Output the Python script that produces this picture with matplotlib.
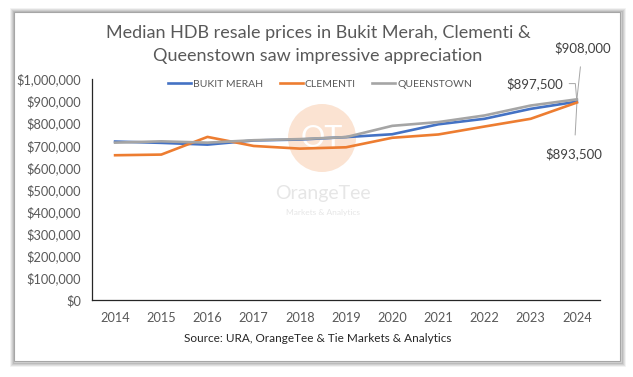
import matplotlib.pyplot as plt
import matplotlib.patches as patches

plt.rcParams['font.family'] = ['Lato', 'DejaVu Sans']

years = ['2014', '2015', '2016', '2017', '2018', '2019', '2020', '2021', '2022', '2023', '2024']
bukit_merah = [717000, 711000, 703000, 722000, 726000, 737000, 750000, 795000, 820000, 865000, 897500]
clementi = [655000, 658000, 738000, 697000, 685000, 691000, 734000, 749000, 785000, 820000, 893500]
queenstown = [712000, 718000, 712000, 723000, 728000, 737000, 788000, 805000, 835000, 880000, 908000]
y_ticks = [0, 100000, 200000, 300000, 400000, 500000, 600000, 700000, 800000, 900000, 1000000]

W, H = 633, 377
fig = plt.figure(figsize=(6.33, 3.77), dpi=100)

# frame with soft shadow
def px(x, y):
    return x / W, 1 - y / H

for i, a in enumerate([0.10, 0.18, 0.28, 0.40]):
    off = 4 - i
    x0, y1 = px(14 - off + 1, 361 + off + 1)
    x1, y0 = px(620 + off + 1, 12 - off + 1)
    fig.patches.append(patches.Rectangle((x0, y1), x1 - x0, y0 - y1, transform=fig.transFigure,
                                         facecolor='none', edgecolor='#7f7f7f', alpha=a, lw=1.3,
                                         zorder=-3))
x0, y1 = px(14, 361)
x1, y0 = px(620, 12)
fig.patches.append(patches.Rectangle((x0, y1), x1 - x0, y0 - y1, transform=fig.transFigure,
                                     facecolor='white', edgecolor='#a6a6a6', lw=0.8, zorder=-2))

ax = fig.add_axes([92 / W, 1 - 300 / H, (600 - 92) / W, (300 - 79) / H])
ax.set_facecolor('none')

# watermark
cx, cy = px(322, 138)
fig.patches.append(patches.Ellipse((cx, cy), 68 / W, 68 / H, transform=fig.transFigure,
                                   facecolor='#fbe3d2', edgecolor='none', zorder=-1))
fig.text(cx, cy, 'OT', ha='center', va='center', fontsize=22, color='white', zorder=-1)
fig.text(*px(323, 194), 'OrangeTee', ha='center', va='center', fontsize=14, color='#e6e6e6', zorder=-1)
fig.text(*px(323, 212), 'Markets & Analytics', ha='center', va='center', fontsize=6, color='#e6e6e6', zorder=-1)

x = list(range(len(years)))
ax.plot(x, bukit_merah, color='#4472c4', lw=1.9, label='BUKIT MERAH', zorder=4)
ax.plot(x, clementi, color='#ed7d31', lw=1.9, label='CLEMENTI', zorder=4)
ax.plot(x, queenstown, color='#a5a5a5', lw=1.9, label='QUEENSTOWN', zorder=4)

ax.set_xlim(-0.5, len(years) - 0.5)
ax.set_ylim(0, 1000000)
ax.set_xticks(x)
ax.set_xticklabels(years)
ax.set_yticks(y_ticks)
ax.set_yticklabels(['${:,.0f}'.format(v) for v in y_ticks])
ax.tick_params(axis='both', length=0, labelsize=9.2, colors='#595959')
ax.tick_params(axis='x', pad=9)
ax.tick_params(axis='y', pad=8)
for s in ['top', 'right']:
    ax.spines[s].set_visible(False)
ax.spines['left'].set_color('#262626')
ax.spines['bottom'].set_color('#262626')
ax.spines['left'].set_linewidth(0.9)
ax.spines['bottom'].set_linewidth(0.9)

# end labels with leader lines
last = len(years) - 1
lc = '#a6a6a6'
ax.annotate('${:,.0f}'.format(queenstown[-1]), xy=(last, queenstown[-1]), xytext=(4, 37),
            textcoords='offset points', ha='center', va='center', fontsize=9.5, color='#404040',
            arrowprops=dict(arrowstyle='-', color=lc, lw=0.7, shrinkA=7, shrinkB=0))
ax.annotate('${:,.0f}'.format(bukit_merah[-1]), xy=(last, bukit_merah[-1]), xytext=(-30, 13),
            textcoords='offset points', ha='center', va='center', fontsize=9.5, color='#404040',
            arrowprops=dict(arrowstyle='-', color=lc, lw=0.7, shrinkA=2, shrinkB=0,
                            connectionstyle='angle,angleA=0,angleB=95,rad=0', relpos=(1.0, 0.5)))
ax.annotate('${:,.0f}'.format(clementi[-1]), xy=(last, clementi[-1]), xytext=(-2, -37),
            textcoords='offset points', ha='center', va='center', fontsize=9.5, color='#404040',
            arrowprops=dict(arrowstyle='-', color=lc, lw=0.7, shrinkA=7, shrinkB=0))

ax.legend(loc='center', bbox_to_anchor=((320 - 92) / (600 - 92), (300 - 84) / (300 - 79)),
          ncol=3, frameon=False, fontsize=7.5, handlelength=2.2, handletextpad=0.2,
          columnspacing=1.6, labelcolor='#595959')

fig.text(*px(318, 33), 'Median HDB resale prices in Bukit Merah, Clementi &', ha='center', va='center',
         fontsize=13, color='#595959')
fig.text(*px(318, 56), 'Queenstown saw impressive appreciation', ha='center', va='center',
         fontsize=13, color='#595959')
fig.text(*px(318, 338), 'Source: URA, OrangeTee & Tie Markets & Analytics', ha='center', va='center',
         fontsize=8.5, color='#262626')

fig.savefig('out.png', dpi=100)
